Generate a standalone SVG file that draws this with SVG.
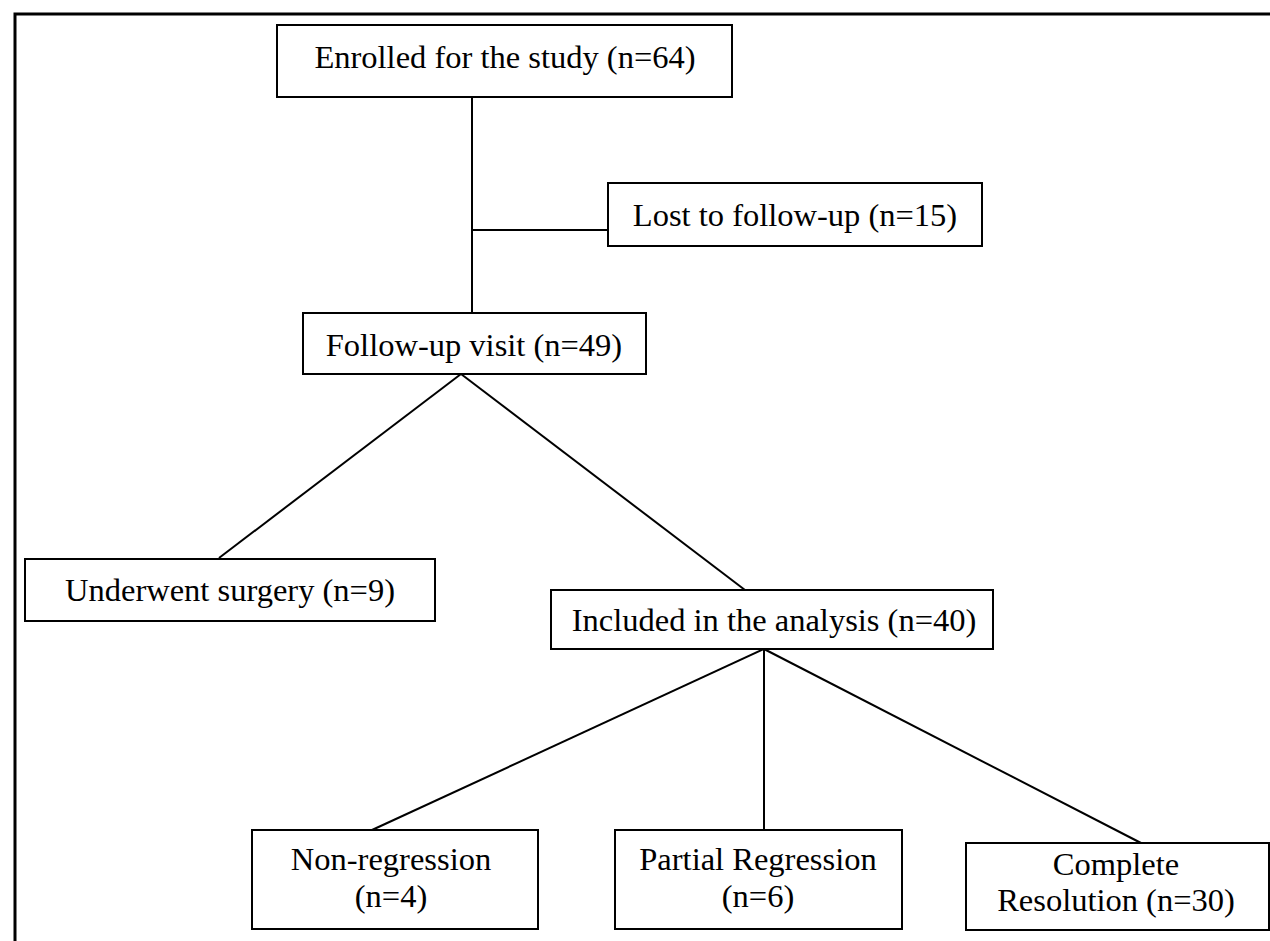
<svg xmlns="http://www.w3.org/2000/svg" width="1270" height="941" viewBox="0 0 1270 941">
<style>
.box{fill:#fff;stroke:#000;stroke-width:2}
.t{font-family:"Liberation Serif","Times New Roman",serif;font-size:32.5px;fill:#000;text-anchor:middle}
.c line{stroke:#000;stroke-width:2}
</style>
<rect x="0" y="0" width="1270" height="941" fill="#fff"/>
<path d="M15 941 V14 H1270" fill="none" stroke="#000" stroke-width="3"/>
<g class="c" id="connectors">
<line x1="472" y1="97" x2="472" y2="313"/>
<line x1="472" y1="230" x2="608" y2="230"/>
<line x1="461" y1="374" x2="219" y2="558"/>
<line x1="461" y1="374" x2="745" y2="590"/>
<line x1="764" y1="649" x2="372" y2="830"/>
<line x1="764" y1="649" x2="764" y2="830"/>
<line x1="764" y1="649" x2="1141" y2="843"/>
</g>
<g id="enrolled"><rect class="box" x="277" y="25" width="455" height="72"/><text class="t" x="505" y="68">Enrolled for the study (n=64)</text></g>
<g id="lost"><rect class="box" x="608" y="183" width="374" height="63"/><text class="t" x="795" y="226">Lost to follow-up (n=15)</text></g>
<g id="followup"><rect class="box" x="303" y="313" width="343" height="61"/><text class="t" x="474" y="356">Follow-up visit (n=49)</text></g>
<g id="surgery"><rect class="box" x="25" y="559" width="410" height="62"/><text class="t" x="230" y="601">Underwent surgery (n=9)</text></g>
<g id="included"><rect class="box" x="551" y="590" width="442" height="59"/><text class="t" x="774" y="631">Included in the analysis (n=40)</text></g>
<g id="nonreg"><rect class="box" x="252" y="830" width="286" height="99"/><text class="t" x="391" y="870">Non-regression</text><text class="t" x="391" y="907">(n=4)</text></g>
<g id="partial"><rect class="box" x="615" y="830" width="287" height="99"/><text class="t" x="758" y="870">Partial Regression</text><text class="t" x="758" y="907">(n=6)</text></g>
<g id="complete"><rect class="box" x="966" y="843" width="303" height="87"/><text class="t" x="1116" y="875">Complete</text><text class="t" x="1116" y="911">Resolution (n=30)</text></g>
</svg>
